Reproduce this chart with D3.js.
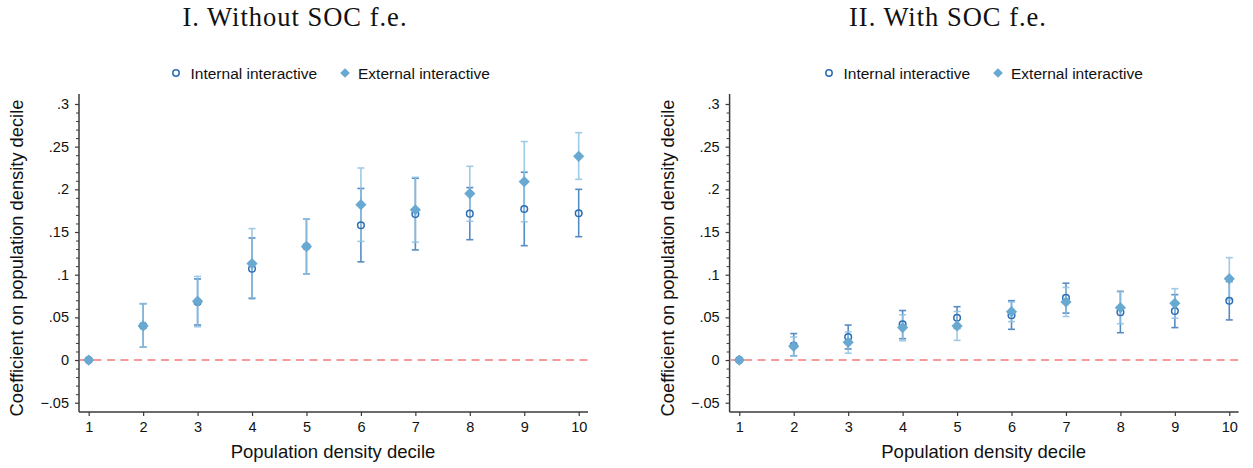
<!DOCTYPE html>
<html>
<head>
<meta charset="utf-8">
<script src="https://cdn.jsdelivr.net/npm/d3@7"></script>
<style>
  html, body { margin: 0; padding: 0; background: #fff; }
  svg { display: block; }
</style>
</head>
<body>
<svg id="chart" width="1253" height="468"></svg>
<script>
// ---------- data ----------
const deciles = [1, 2, 3, 4, 5, 6, 7, 8, 9, 10];
const yTicks = [-0.05, 0, 0.05, 0.1, 0.15, 0.2, 0.25, 0.3];
const yTickLabels = ["\u2212.05", "0", ".05", ".1", ".15", ".2", ".25", ".3"];
const panelTitles = ["I. Without SOC f.e.", "II. With SOC f.e."];
const seriesNames = ["Internal interactive", "External interactive"];
const xTitle = "Population density decile";
const yTitle = "Coefficient on population density decile";

// Panel I: without SOC fixed effects
const p1Internal   = [0, 0.040, 0.068, 0.107, 0.133, 0.158, 0.171, 0.1715, 0.177, 0.172];
const p1InternalLo = [0, 0.015, 0.041, 0.072, 0.101, 0.115, 0.129, 0.141, 0.134, 0.1445];
const p1InternalHi = [0, 0.066, 0.095, 0.143, 0.165, 0.201, 0.213, 0.202, 0.220, 0.200];
const p1External   = [0, 0.040, 0.069, 0.113, 0.133, 0.182, 0.176, 0.195, 0.209, 0.2387];
const p1ExternalLo = [0, 0.015, 0.039, 0.073, 0.101, 0.139, 0.138, 0.1625, 0.162, 0.2117];
const p1ExternalHi = [0, 0.066, 0.098, 0.154, 0.165, 0.225, 0.214, 0.227, 0.256, 0.2664];

// Panel II: with SOC fixed effects
const p2Internal   = [0, 0.017, 0.027, 0.042, 0.0496, 0.0524, 0.073, 0.056, 0.0574, 0.0695];
const p2InternalLo = [0, 0.005, 0.013, 0.025, 0.037, 0.036, 0.055, 0.032, 0.038, 0.047];
const p2InternalHi = [0, 0.031, 0.041, 0.058, 0.0625, 0.0695, 0.090, 0.0805, 0.0766, 0.092];
const p2External   = [0, 0.016, 0.0207, 0.038, 0.040, 0.0566, 0.068, 0.0613, 0.0664, 0.0953];
const p2ExternalLo = [0, 0.005, 0.008, 0.0226, 0.023, 0.045, 0.051, 0.0426, 0.049, 0.0706];
const p2ExternalHi = [0, 0.027, 0.033, 0.053, 0.057, 0.068, 0.085, 0.080, 0.0836, 0.120];

// ---------- styles ----------
const COL_INT = "#2c6db4";
const COL_INT_CI = "#4f86c0";
const COL_EXT = "#68a9d2";
const COL_EXT_CI = "#8fc2e2";
const COL_AXIS = "#3a3a3a";
const COL_REF = "#f79a9a";
const SANS = "'Liberation Sans', Arial, Helvetica, sans-serif";
const SERIF = "'Liberation Serif', 'Times New Roman', serif";

const svg = d3.select("#chart");

const panels = [
  { offset: 0, legendOffset: 0, title: panelTitles[0], titleX: 295,
    intr: p1Internal, intrLo: p1InternalLo, intrHi: p1InternalHi,
    ext: p1External, extLo: p1ExternalLo, extHi: p1ExternalHi },
  { offset: 650.6, legendOffset: 653, title: panelTitles[1], titleX: 948,
    intr: p2Internal, intrLo: p2InternalLo, intrHi: p2InternalHi,
    ext: p2External, extLo: p2ExternalLo, extHi: p2ExternalHi }
];

const diamondType = d3.symbolDiamond2 || d3.symbolDiamond;
const diamond = d3.symbol().type(diamondType).size(80);

panels.forEach(p => {
  const g = svg.append("g").attr("transform", `translate(${p.offset},0)`);
  const x = d3.scaleLinear().domain([0.822, 10.171]).range([79, 588]);
  const y = d3.scaleLinear().domain([-0.0609, 0.3117]).range([412, 94]);

  // title
  svg.append("text")
    .attr("x", p.titleX).attr("y", 26)
    .attr("text-anchor", "middle")
    .attr("font-family", SERIF).attr("font-size", 26.5)
    .attr("letter-spacing", 1.0)
    .attr("fill", "#111")
    .text(p.title);

  // legend
  const lg = svg.append("g").attr("transform", `translate(${p.legendOffset},0)`);
  lg.append("circle").attr("cx", 176).attr("cy", 73).attr("r", 3.2)
    .attr("fill", "none").attr("stroke", COL_INT).attr("stroke-width", 1.5);
  lg.append("text").attr("x", 190.5).attr("y", 78.5)
    .attr("font-family", SANS).attr("font-size", 15.5).attr("fill", "#111")
    .text(seriesNames[0]);
  lg.append("path").attr("d", d3.symbol().type(diamondType).size(60)())
    .attr("transform", "translate(345,73)").attr("fill", COL_EXT);
  lg.append("text").attr("x", 358).attr("y", 78.5)
    .attr("font-family", SANS).attr("font-size", 15.5).attr("fill", "#111")
    .text(seriesNames[1]);

  // y axis
  const yAxis = d3.axisLeft(y).tickValues(yTicks)
    .tickFormat((d, i) => yTickLabels[i]).tickSize(4).tickPadding(6);
  const ya = g.append("g").attr("transform", "translate(79,0)").call(yAxis);
  ya.select(".domain").remove();
  ya.selectAll(".tick line").attr("stroke", COL_AXIS).attr("stroke-width", 1.2);
  ya.selectAll(".tick text").attr("font-family", SANS).attr("font-size", 14.5).attr("fill", "#111");
  // minor ticks every .01
  const minor = d3.range(-5, 31).map(v => v / 100).filter(v => Math.round(v * 100) % 5 !== 0);
  const yMinor = d3.axisLeft(y).tickValues(minor).tickSize(3).tickFormat("");
  const ym = g.append("g").attr("transform", "translate(79,0)").call(yMinor);
  ym.select(".domain").remove();
  ym.selectAll(".tick line").attr("stroke", COL_AXIS).attr("stroke-width", 1);
  g.append("line").attr("x1", 79).attr("x2", 79).attr("y1", 94).attr("y2", 412)
    .attr("stroke", COL_AXIS).attr("stroke-width", 1.5);

  // x axis
  const xAxis = d3.axisBottom(x).tickValues(deciles).tickFormat(d3.format("d"))
    .tickSize(4).tickPadding(6);
  const xa = g.append("g").attr("transform", "translate(0,412)").call(xAxis);
  xa.select(".domain").remove();
  xa.selectAll(".tick line").attr("stroke", COL_AXIS).attr("stroke-width", 1.2);
  xa.selectAll(".tick text").attr("font-family", SANS).attr("font-size", 14.5).attr("fill", "#111");
  g.append("line").attr("x1", 79).attr("x2", 588).attr("y1", 412).attr("y2", 412)
    .attr("stroke", COL_AXIS).attr("stroke-width", 1.5);

  // axis titles
  g.append("text").attr("x", (79 + 588) / 2 - 0.5).attr("y", 458)
    .attr("text-anchor", "middle").attr("font-family", SANS).attr("font-size", 18.5).attr("fill", "#111")
    .text(xTitle);
  g.append("text").attr("transform", "translate(23,258) rotate(-90)")
    .attr("text-anchor", "middle").attr("font-family", SANS).attr("font-size", 18.3).attr("fill", "#111")
    .text(yTitle);

  // reference line at 0
  g.append("line").attr("x1", 80).attr("x2", 588).attr("y1", y(0)).attr("y2", y(0))
    .attr("stroke", COL_REF).attr("stroke-width", 2).attr("stroke-dasharray", "8,5.5");

  const capW = 3.5;
  function drawCI(lo, hi, col, op) {
    const cg = g.append("g").attr("stroke", col).attr("stroke-width", 1.6).attr("opacity", op);
    deciles.forEach((d, i) => {
      if (hi[i] === lo[i]) return;
      cg.append("line").attr("x1", x(d)).attr("x2", x(d)).attr("y1", y(lo[i])).attr("y2", y(hi[i]));
      cg.append("line").attr("x1", x(d) - capW).attr("x2", x(d) + capW).attr("y1", y(lo[i])).attr("y2", y(lo[i]));
      cg.append("line").attr("x1", x(d) - capW).attr("x2", x(d) + capW).attr("y1", y(hi[i])).attr("y2", y(hi[i]));
    });
  }
  drawCI(p.intrLo, p.intrHi, COL_INT_CI, 0.95);
  drawCI(p.extLo, p.extHi, COL_EXT_CI, 0.85);

  // internal markers (hollow circles)
  g.selectAll("circle.int").data(deciles).enter().append("circle")
    .attr("class", "int")
    .attr("cx", d => x(d)).attr("cy", (d, i) => y(p.intr[i])).attr("r", 3.3)
    .attr("fill", "none").attr("stroke", COL_INT).attr("stroke-width", 1.5);

  // external markers (diamonds)
  g.selectAll("path.ext").data(deciles).enter().append("path")
    .attr("class", "ext")
    .attr("d", diamond())
    .attr("transform", (d, i) => `translate(${x(d)},${y(p.ext[i])})`)
    .attr("fill", COL_EXT);
});
</script>
</body>
</html>
